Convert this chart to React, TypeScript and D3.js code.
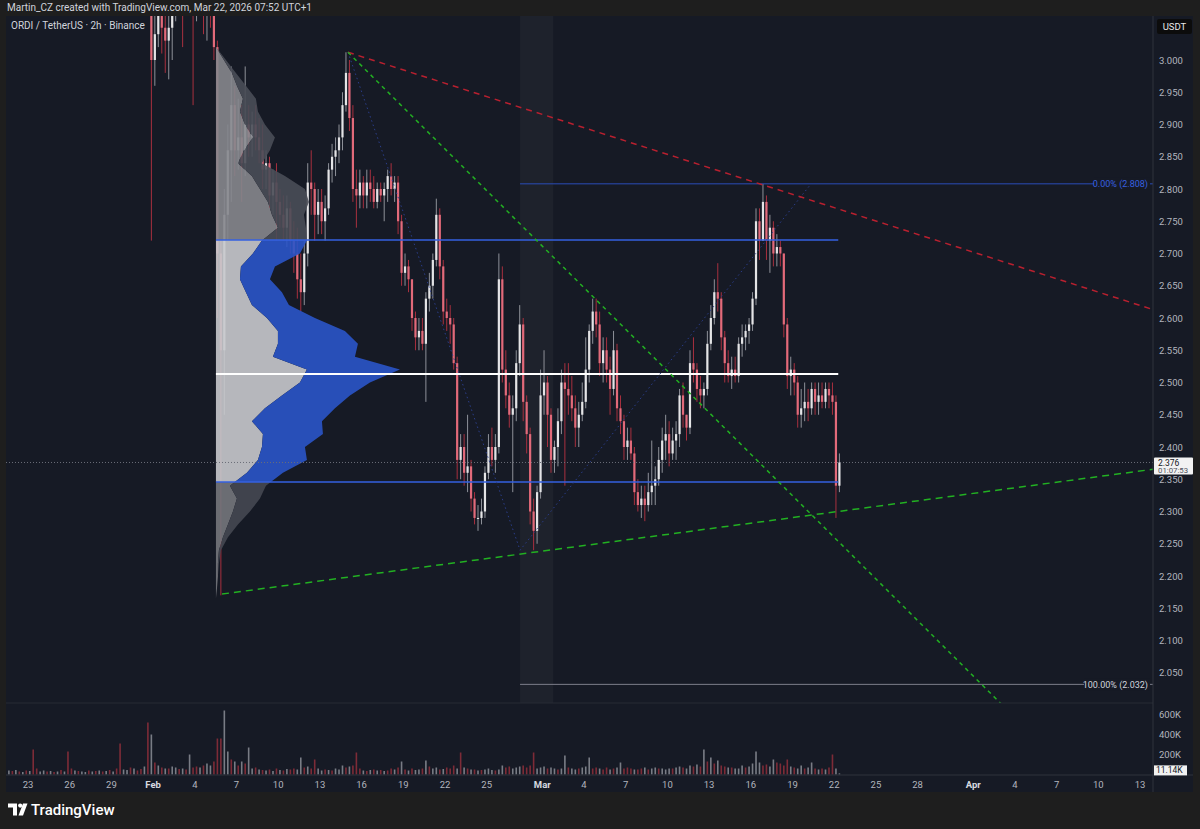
import React from 'react';
import * as d3 from 'd3';

// ---------- DATA ----------
// 6h candles starting 2026-01-31 18:00 UTC
const candleStartISO = '2026-01-31T18:00:00Z';
const firstOpen = 3.10;
const candleClose = [
  3.00, 3.04, 3.08, 3.05, 3.03, 3.05, 3.07, 3.10, 3.12, 3.10,
  3.11, 3.12, 3.08, 3.10, 3.11, 3.08, 3.09, 3.08, 3.02, 2.70,
  2.55, 2.76, 2.86, 2.93, 2.86, 2.88, 2.84, 2.90, 2.88, 2.90,
  2.88, 2.86, 2.83, 2.84, 2.79, 2.81, 2.78, 2.76, 2.74, 2.77,
  2.72, 2.70, 2.66, 2.64, 2.70, 2.81, 2.80, 2.76, 2.78, 2.75,
  2.77, 2.83, 2.85, 2.86, 2.88, 2.93, 2.98, 2.91, 2.80, 2.79,
  2.81, 2.79, 2.81, 2.80, 2.78, 2.80, 2.79, 2.80, 2.82, 2.80,
  2.81, 2.75, 2.67, 2.68, 2.66, 2.60, 2.57, 2.58, 2.56, 2.63,
  2.65, 2.69, 2.76, 2.68, 2.61, 2.60, 2.59, 2.53, 2.38, 2.40,
  2.36, 2.37, 2.32, 2.29, 2.29, 2.30, 2.36, 2.40, 2.38, 2.40,
  2.66, 2.52, 2.48, 2.45, 2.46, 2.53, 2.59, 2.47, 2.42, 2.30,
  2.27, 2.33, 2.48, 2.50, 2.45, 2.38, 2.40, 2.44, 2.50, 2.49,
  2.48, 2.46, 2.43, 2.45, 2.47, 2.52, 2.58, 2.61, 2.59, 2.53,
  2.55, 2.52, 2.49, 2.55, 2.46, 2.44, 2.40, 2.41, 2.39, 2.33,
  2.31, 2.32, 2.31, 2.33, 2.34, 2.35, 2.38, 2.41, 2.42, 2.39,
  2.41, 2.42, 2.48, 2.45, 2.43, 2.53, 2.52, 2.49, 2.48, 2.49,
  2.56, 2.60, 2.64, 2.63, 2.57, 2.53, 2.51, 2.52, 2.51, 2.56,
  2.57, 2.58, 2.59, 2.63, 2.75, 2.72, 2.78, 2.72, 2.74, 2.70,
  2.71, 2.70, 2.59, 2.51, 2.52, 2.50, 2.45, 2.46, 2.47, 2.46,
  2.49, 2.47, 2.48, 2.47, 2.49, 2.48, 2.47, 2.34, 2.376,
];
const candleHigh = [
  3.12, 3.08, 3.10, 3.10, 3.08, 3.07, 3.09, 3.13, 3.14, 3.14,
  3.13, 3.14, 3.14, 3.12, 3.13, 3.12, 3.11, 3.11, 3.09, 3.03,
  2.72, 2.80, 2.90, 2.99, 2.96, 2.94, 2.93, 2.99, 2.93, 2.92,
  2.93, 2.91, 2.90, 2.86, 2.85, 2.83, 2.84, 2.80, 2.79, 2.79,
  2.78, 2.75, 2.74, 2.70, 2.72, 2.84, 2.86, 2.81, 2.80, 2.80,
  2.79, 2.84, 2.87, 2.88, 2.90, 2.95, 3.012, 3.00, 2.93, 2.83,
  2.83, 2.82, 2.83, 2.83, 2.82, 2.81, 2.81, 2.81, 2.83, 2.84,
  2.82, 2.82, 2.76, 2.70, 2.69, 2.66, 2.61, 2.60, 2.60, 2.64,
  2.67, 2.70, 2.785, 2.77, 2.69, 2.63, 2.62, 2.60, 2.54, 2.42,
  2.42, 2.45, 2.38, 2.33, 2.31, 2.32, 2.37, 2.42, 2.43, 2.42,
  2.70, 2.68, 2.55, 2.50, 2.48, 2.55, 2.62, 2.60, 2.48, 2.43,
  2.32, 2.34, 2.52, 2.55, 2.51, 2.46, 2.41, 2.46, 2.52, 2.53,
  2.53, 2.51, 2.48, 2.47, 2.50, 2.57, 2.59, 2.63, 2.63, 2.61,
  2.57, 2.57, 2.54, 2.58, 2.56, 2.48, 2.45, 2.43, 2.43, 2.40,
  2.35, 2.34, 2.34, 2.36, 2.41, 2.37, 2.40, 2.43, 2.45, 2.44,
  2.43, 2.44, 2.49, 2.50, 2.45, 2.55, 2.57, 2.53, 2.51, 2.50,
  2.58, 2.62, 2.66, 2.685, 2.64, 2.58, 2.55, 2.54, 2.54, 2.57,
  2.59, 2.59, 2.60, 2.64, 2.77, 2.77, 2.808, 2.79, 2.76, 2.75,
  2.73, 2.72, 2.70, 2.60, 2.54, 2.53, 2.51, 2.49, 2.50, 2.49,
  2.50, 2.50, 2.50, 2.50, 2.50, 2.50, 2.50, 2.48, 2.39,
];
const candleLow = [
  2.72, 2.96, 3.02, 3.01, 2.98, 2.97, 3.00, 3.06, 3.08, 3.02,
  3.07, 3.08, 2.93, 3.06, 3.07, 3.04, 3.03, 3.05, 3.00, 2.60,
  2.17, 2.45, 2.72, 2.78, 2.82, 2.83, 2.78, 2.82, 2.85, 2.85,
  2.86, 2.84, 2.80, 2.80, 2.77, 2.76, 2.72, 2.74, 2.72, 2.71,
  2.70, 2.67, 2.63, 2.61, 2.62, 2.68, 2.76, 2.72, 2.73, 2.73,
  2.72, 2.76, 2.81, 2.82, 2.84, 2.86, 2.92, 2.89, 2.78, 2.74,
  2.77, 2.77, 2.77, 2.78, 2.77, 2.77, 2.78, 2.75, 2.78, 2.79,
  2.78, 2.73, 2.65, 2.65, 2.64, 2.58, 2.55, 2.55, 2.55, 2.47,
  2.61, 2.63, 2.68, 2.66, 2.59, 2.58, 2.56, 2.52, 2.35, 2.35,
  2.34, 2.33, 2.30, 2.28, 2.27, 2.28, 2.29, 2.35, 2.37, 2.36,
  2.39, 2.50, 2.46, 2.43, 2.33, 2.44, 2.51, 2.44, 2.39, 2.28,
  2.24, 2.25, 2.32, 2.45, 2.40, 2.36, 2.36, 2.37, 2.42, 2.34,
  2.45, 2.44, 2.40, 2.40, 2.44, 2.46, 2.50, 2.56, 2.57, 2.51,
  2.50, 2.50, 2.45, 2.48, 2.44, 2.42, 2.38, 2.38, 2.38, 2.31,
  2.30, 2.29, 2.285, 2.30, 2.31, 2.31, 2.34, 2.36, 2.38, 2.37,
  2.38, 2.38, 2.40, 2.43, 2.41, 2.42, 2.50, 2.47, 2.46, 2.46,
  2.48, 2.55, 2.59, 2.61, 2.55, 2.50, 2.50, 2.49, 2.50, 2.50,
  2.54, 2.55, 2.56, 2.58, 2.62, 2.69, 2.72, 2.69, 2.67, 2.68,
  2.68, 2.68, 2.57, 2.49, 2.48, 2.48, 2.43, 2.43, 2.44, 2.44,
  2.45, 2.45, 2.45, 2.46, 2.46, 2.46, 2.45, 2.29, 2.33,
];

// 6h volume (K) starting 2026-01-21 12:00 UTC; negative = down bar
const volumeStartISO = '2026-01-21T12:00:00Z';
const volume = [
  40, -35,
  45, -30, 25, -40,
  35, -250, -60, 30,
  40, -30, 35, -25,
  30, -45, 30, -230,
  -60, 40, -35, 30,
  25, -40, 30, -35,
  40, -30, 35, -45,
  30, -60, -310, 50,
  45, -70, 60, -40,
  -55, 80, -520, 400,
  -120, 90, -70, 60,
  -60, 80, 70, -55,
  60, -50, 200, -70,
  -80, 70, -90, 110,
  90, -130, -360, -360,
  640, 230, -150, 130,
  -90, 130, -110, 270,
  60, -70, 50, -45,
  40, -50, 35, -60,
  45, -40, 55, -50,
  -60, 50, 170, -70,
  80, -60, -150, 60,
  40, -50, 45, -40,
  60, 50, 90, -70,
  80, -90, -220, -60,
  40, -35, 45, -50,
  40, -45, 35, -40,
  -60, 50, -70, 130,
  -50, 40, -60, 45,
  50, -60, 140, -80,
  60, 70, -50, 55,
  -70, -60, -90, 60,
  -220, 70, -60, 50,
  -50, 40, -45, 50,
  60, 45, -40, 50,
  90, -70, -80, 60,
  70, 80, -90, -70,
  -90, -220, 60, 70,
  80, -60, 70, 60,
  -50, 60, 190, -70,
  60, 50, -60, 70,
  80, 170, -60, -70,
  60, -50, -70, 50,
  -60, 70, 120, -60,
  -70, -60, 50, -50,
  -60, 70, -50, 60,
  70, -60, 60, 50,
  60, -60, 70, 80,
  -70, 60, 90, -80,
  100, -80, 250, -130,
  170, -110, 140, -90,
  -80, 70, -70, 60,
  60, 90, -70, 80,
  110, 230, 120, -90,
  -100, 80, 150, -120,
  -110, -90, -150, 80,
  -70, 60, 90, -60,
  70, 120, -60, 50,
  -60, 50, -70, -200,
  60, 11.14,
];

// Volume profile (fixed range) rows
const profileStartISO = '2026-02-05T12:30:00Z';
const profileEndISO = '2026-03-22T07:00:00Z';
const profilePrice = [3.02, 3.00, 2.98, 2.96, 2.94, 2.92, 2.90, 2.88, 2.86, 2.84, 2.82, 2.80, 2.78, 2.76, 2.74, 2.72, 2.70, 2.68, 2.66, 2.64, 2.62, 2.60, 2.58, 2.56, 2.54, 2.52, 2.50, 2.48, 2.46, 2.44, 2.42, 2.40, 2.38, 2.36, 2.34, 2.32, 2.30, 2.28, 2.26, 2.24, 2.22, 2.20, 2.18, 2.165];
const profileUp = [0, 8, 16, 21, 27, 24, 29, 37, 28, 22, 36, 44, 52, 56, 62, 46, 37, 25, 24, 30, 36, 51, 62, 62, 57, 91, 84, 66, 49, 36, 47, 46, 42, 31, 14, 21, 17, 12, 7, 3, 2, 2, 1, 0];
const profileDown = [0, 2, 4, 9, 13, 18, 20, 22, 26, 24, 33, 45, 41, 32, 28, 45, 47, 34, 30, 36, 37, 48, 67, 80, 82, 93, 70, 68, 70, 70, 60, 43, 49, 36, 36, 23, 17, 10, 5, 2, 1, 0, 0, 0];
const valueAreaHigh = 2.7209;
const valueAreaLow = 2.3457;
const pocPrice = 2.5132;

// Drawings (date, price anchors)
const redLine = [['2026-02-15T00:30:00Z', 3.012], ['2026-03-16T15:20:00Z', 2.808]];
const greenDown = [['2026-02-15T00:30:00Z', 3.012], ['2026-03-22T10:00:00Z', 2.251]];
const greenUp = [['2026-02-05T23:00:00Z', 2.172], ['2026-03-22T06:30:00Z', 2.30]];
const fibPoints = [['2026-02-15T00:30:00Z', 3.012], ['2026-02-27T09:36:00Z', 2.24], ['2026-03-20T06:15:00Z', 2.806]];
const fibLabels = ['0.00% (2.808)', '100.00% (2.032)'];
const fibPrices = [2.808, 2.032];
const highlightBand = ['2026-02-27T09:36:00Z', '2026-02-29T19:00:00Z'];

const lastPrice = 2.376;
const lastVolume = 11.14;
const lastVolumeLabel = '11.14K';
const countdown = '01:07:53';

const priceTicks = [3.0, 2.95, 2.9, 2.85, 2.8, 2.75, 2.7, 2.65, 2.6, 2.55, 2.5, 2.45, 2.4, 2.35, 2.3, 2.25, 2.2, 2.15, 2.1, 2.05];
const volumeTicks = [600, 400, 200];
const timeTicks = ['2026-01-23', '2026-01-26', '2026-01-29', '2026-02-01', '2026-02-04', '2026-02-07', '2026-02-10', '2026-02-13', '2026-02-16', '2026-02-19', '2026-02-22', '2026-02-25', '2026-03-01', '2026-03-04', '2026-03-07', '2026-03-10', '2026-03-13', '2026-03-16', '2026-03-19', '2026-03-22', '2026-03-25', '2026-03-28', '2026-04-01', '2026-04-04', '2026-04-07', '2026-04-10', '2026-04-13'];

const headerText = 'Martin_CZ created with TradingView.com, Mar 22, 2026 07:52 UTC+1';
const titleText = 'ORDI / TetherUS · 2h · Binance';

// ---------- LAYOUT ----------
const W = 1200, H = 829;
const L = 6, R = 1153, AX = 1193;
const TOP = 16, MAIN_B = 703, VOL_B = 775, TIME_B = 792;
const BG = '#161a25';
const OUTER = '#1e1e1e';
const FONT = 'Roboto, "Noto Sans", "DejaVu Sans", sans-serif';
const SIX_H = 6 * 3600 * 1000;
const THREE_H = 3 * 3600 * 1000;

export default function App() {
  const x = d3.scaleUtc()
    .domain([new Date(Date.UTC(2026, 0, 23)), new Date(Date.UTC(2026, 3, 13))])
    .range([28, 1140]);
  const y = d3.scaleLinear().domain([2.0, 3.0]).range([705, 60]);
  const yv = d3.scaleLinear().domain([0, 600]).range([774.5, 714.5]);
  const fmt3 = d3.format('.3f');
  const parse = (s: string) => new Date(s);
  const dayParse = d3.utcParse('%Y-%m-%d');

  const cStart = parse(candleStartISO).getTime();
  const candles = candleClose.map((c, i) => {
    const o = i === 0 ? firstOpen : candleClose[i - 1];
    const hi = Math.max(candleHigh[i], o, c);
    const lo = Math.min(candleLow[i], o, c);
    return { t: new Date(cStart + i * SIX_H + THREE_H), o, h: hi, l: lo, c };
  });
  const vStart = parse(volumeStartISO).getTime();
  const vols = volume.map((v, i) => ({ t: new Date(vStart + i * SIX_H + THREE_H), v: Math.abs(v), up: v >= 0 }));

  const px = (a: any) => [x(parse(a[0])), y(a[1])];
  const extend = (pts: any[], xEnd: number) => {
    const [x1, y1] = px(pts[0]);
    const [x2, y2] = px(pts[1]);
    const yEnd = y1 + (y2 - y1) * (xEnd - x1) / (x2 - x1);
    return { x1, y1, x2: xEnd, y2: yEnd };
  };
  const red = extend(redLine, R);
  const gDown = extend(greenDown, R);
  const gUp = extend(greenUp, R);
  const fibPts = fibPoints.map(px);
  const fibX0 = fibPts[1][0];

  const profX0 = x(parse(profileStartISO));
  const profX1 = x(parse(profileEndISO));
  const rows = profilePrice.map((p, i) => ({ p, u: profileUp[i], d: profileDown[i] }));
  const upArea = d3.area<any>().curve(d3.curveLinear)
    .y(r => y(r.p)).x0(profX0).x1(r => profX0 + r.u);
  const dnArea = d3.area<any>().curve(d3.curveLinear)
    .y(r => y(r.p)).x0(r => profX0 + r.u).x1(r => profX0 + r.u + r.d);
  const upPath = upArea(rows) as string;
  const dnPath = dnArea(rows) as string;
  const vaTop = y(valueAreaHigh), vaBot = y(valueAreaLow);

  const bandX0 = x(parse(highlightBand[0]));
  const bandX1 = x(parse(highlightBand[1]));

  const lastY = y(lastPrice);

  return (
    <svg width={W} height={H} style={{ position: 'absolute', left: 0, top: 0, display: 'block' }} fontFamily={FONT}>
      <defs>
        <clipPath id="mainClip"><rect x={L} y={TOP} width={R - L} height={MAIN_B - TOP} /></clipPath>
        <clipPath id="volClip"><rect x={L} y={MAIN_B} width={R - L} height={VOL_B - MAIN_B} /></clipPath>
        <clipPath id="vaClip"><rect x={L} y={vaTop} width={R - L} height={vaBot - vaTop} /></clipPath>
        <clipPath id="aboveClip"><rect x={L} y={TOP} width={R - L} height={vaTop - TOP} /></clipPath>
        <clipPath id="belowClip"><rect x={L} y={vaBot} width={R - L} height={MAIN_B - vaBot} /></clipPath>
      </defs>
      <rect x={0} y={0} width={W} height={H} fill={OUTER} />
      <rect x={L} y={TOP} width={AX - L} height={TIME_B - TOP} fill={BG} />
      {/* header */}
      <text x={7} y={11} fontSize={10} fill="#d1d4dc">{headerText}</text>

      {/* main pane */}
      <g clipPath="url(#mainClip)">
        <rect x={bandX0} y={TOP} width={bandX1 - bandX0} height={MAIN_B - TOP} fill="#ffffff" fillOpacity={0.035} />
        {/* candles */}
        {candles.map((d, i) => {
          const cx = x(d.t);
          const up = d.c >= d.o;
          const yt = y(Math.max(d.o, d.c));
          const yb = y(Math.min(d.o, d.c));
          return (
            <g key={i}>
              <line x1={cx} x2={cx} y1={y(d.h)} y2={y(d.l)} stroke={up ? '#8e9199' : '#a8303f'} strokeWidth={1} />
              <rect x={cx - 1.1} y={yt} width={2.2} height={Math.max(1, yb - yt)} fill={up ? '#e4e4e6' : '#e26a7a'} />
            </g>
          );
        })}
        {/* volume profile */}
        <g opacity={0.9}>
          <g clipPath="url(#aboveClip)">
            <path d={upPath} fill="#86878d" />
            <path d={dnPath} fill="#4a4d57" />
          </g>
          <g clipPath="url(#vaClip)">
            <path d={upPath} fill="#c8c9cd" />
            <path d={dnPath} fill="#2b55c8" />
          </g>
          <g clipPath="url(#belowClip)">
            <path d={upPath} fill="#75767c" />
            <path d={dnPath} fill="#454852" />
          </g>
        </g>
        {/* VA / POC lines */}
        <line x1={profX0} x2={profX1} y1={vaTop} y2={vaTop} stroke="#3461e0" strokeWidth={1.5} />
        <line x1={profX0} x2={profX1} y1={vaBot} y2={vaBot} stroke="#3461e0" strokeWidth={1.5} />
        <line x1={profX0} x2={profX1} y1={y(pocPrice)} y2={y(pocPrice)} stroke="#ffffff" strokeWidth={2} />

        {/* fib extension */}
        <polyline points={fibPts.map(p => p.join(',')).join(' ')} fill="none" stroke="#2a3d8a" strokeWidth={1} strokeDasharray="1.5 3" />
        {fibPrices.map((fp, i) => {
          const yy = y(fp);
          return (
            <g key={i}>
              <line x1={fibX0} x2={R} y1={yy} y2={yy} stroke={i === 0 ? '#2a4db8' : '#7c7f8a'} strokeWidth={1} />
              <rect x={i === 0 ? 1094 : 1084} y={yy - 6} width={i === 0 ? 56 : 66} height={12} fill={BG} />
              <text x={1148} y={yy + 3.2} fontSize={9} textAnchor="end" fill={i === 0 ? '#3660e0' : '#d1d4dc'}>{fibLabels[i]}</text>
            </g>
          );
        })}

        {/* trend lines */}
        <line {...red} stroke="#b8202f" strokeWidth={1.5} strokeDasharray="6 5" />
        <line {...gDown} stroke="#22b022" strokeWidth={1.5} strokeDasharray="4 4" />
        <line {...gUp} stroke="#22b022" strokeWidth={1.5} strokeDasharray="7 5" />

        {/* last price line */}
        <line x1={L} x2={R} y1={lastY} y2={lastY} stroke="#6a6d78" strokeWidth={1} strokeDasharray="1 2" />
      </g>
      <text x={11} y={29} fontSize={10} fill="#d1d4dc">{titleText}</text>

      {/* volume pane */}
      <line x1={L} x2={R} y1={MAIN_B} y2={MAIN_B} stroke="#262a35" strokeWidth={1} />
      <g clipPath="url(#volClip)">
        {vols.map((d, i) => {
          const cx = x(d.t);
          return <rect key={i} x={cx - 0.8} y={yv(d.v)} width={1.6} height={yv(0) - yv(d.v)} fill={d.up ? '#8b8e96' : '#8f2f3b'} fillOpacity={0.85} />;
        })}
      </g>

      {/* separators */}
      <line x1={R} x2={R} y1={TOP} y2={TIME_B} stroke="#2e323d" strokeWidth={1} />
      <line x1={L} x2={AX} y1={VOL_B} y2={VOL_B} stroke="#2e323d" strokeWidth={1} />

      {/* price axis */}
      {priceTicks.map((p, i) => (
        <text key={i} x={1159} y={y(p) + 3.5} fontSize={9.5} fill="#b2b5be">{fmt3(p)}</text>
      ))}
      {volumeTicks.map((v, i) => (
        <text key={i} x={1159} y={yv(v) + 3.5} fontSize={9.5} fill="#b2b5be">{v + 'K'}</text>
      ))}
      <rect x={1157} y={19} width={35} height={15} rx={2} fill="#0c0c0c" />
      <text x={1174.5} y={30} fontSize={9.5} textAnchor="middle" fill="#e8e8e8">USDT</text>

      <rect x={1154} y={lastY - 5} width={39} height={17} rx={1} fill="#f2f2f2" />
      <text x={1158} y={lastY + 3.2} fontSize={8.5} fill="#131722">{fmt3(lastPrice)}</text>
      <text x={1158} y={lastY + 10.8} fontSize={7.8} fill="#50535e">{countdown}</text>

      <rect x={1154} y={yv(lastVolume) - 8} width={33} height={10} fill="#f2f2f2" />
      <text x={1156} y={yv(lastVolume) - 0.5} fontSize={8.5} fill="#131722">{lastVolumeLabel}</text>

      {/* time axis */}
      {timeTicks.map((s, i) => {
        const d = dayParse(s) as Date;
        const isMonth = d.getUTCDate() === 1;
        const label = isMonth ? d3.utcFormat('%b')(d) : d3.utcFormat('%-d')(d);
        return (
          <text key={i} x={x(d)} y={788} fontSize={9.5} textAnchor="middle" fill={isMonth ? '#d8dae0' : '#b2b5be'} fontWeight={isMonth ? 700 : 400}>{label}</text>
        );
      })}

      {/* TradingView logo */}
      <g fill="#ffffff">
        <path d="M8,803.5 H17 V815.5 H13 V807.5 H8 Z" />
        <circle cx={20.2} cy={805.6} r={2.1} />
        <path d="M23,803.5 H27.5 L23,815.5 H18.5 Z" />
      </g>
      <text x={31} y={815} fontSize={15} fill="#ffffff" fontWeight={500}>TradingView</text>
    </svg>
  );
}
